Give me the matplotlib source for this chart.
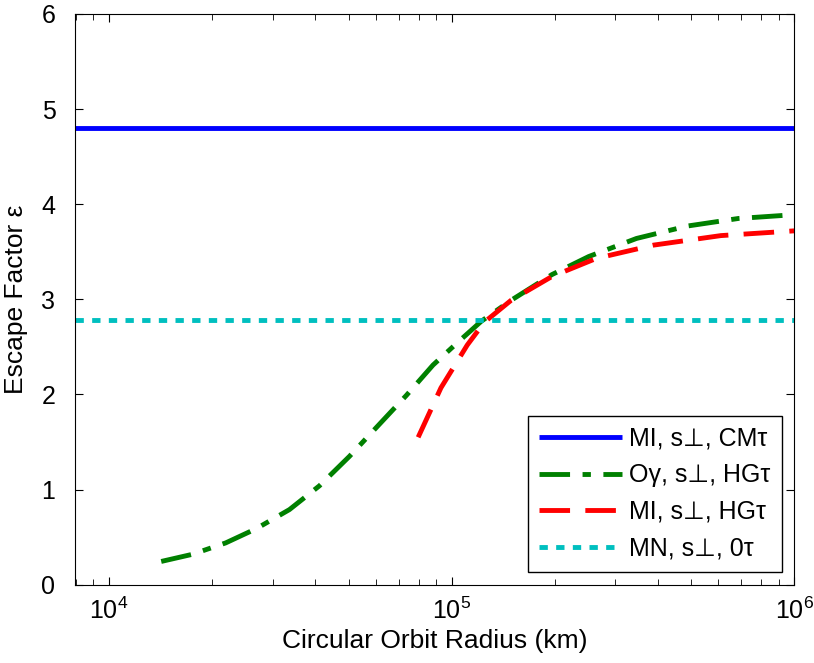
import numpy as np
import matplotlib
matplotlib.use('Agg')
import matplotlib.pyplot as plt

# values
blue_level = 4.80
cyan_level = 2.78

green_r = [1.42e4, 1.75e4, 2.19e4, 2.69e4, 3.36e4, 4.11e4, 5.03e4, 6.16e4,
           7.37e4, 8.82e4, 1.05e5, 1.22e5, 1.49e5, 1.96e5, 2.51e5, 3.46e5,
           4.86e5, 6.86e5, 1e6]
green_e = [0.245, 0.32, 0.44, 0.59, 0.79, 1.04, 1.35, 1.69,
           1.99, 2.31, 2.56, 2.77, 2.99, 3.26, 3.45, 3.64,
           3.77, 3.85, 3.89]

red_r = [7.98e4, 9.3e4, 1.11e5, 1.245e5, 1.49e5, 1.96e5, 2.64e5, 3.88e5,
         6.1e5, 1e6]
red_e = [1.55, 2.07, 2.52, 2.76, 2.99, 3.24, 3.43, 3.57, 3.67, 3.72]

labels = ['MI, s\u22a5, CM\u03c4', 'O\u03b3, s\u22a5, HG\u03c4',
          'MI, s\u22a5, HG\u03c4', 'MN, s\u22a5, 0\u03c4']

plt.rcParams['font.family'] = ['Liberation Sans', 'DejaVu Sans']
plt.rcParams['lines.scale_dashes'] = False

fig = plt.figure(figsize=(8.14, 6.63), dpi=100)
ax = fig.add_axes([0.092, 0.118, 0.884, 0.861])

xlim = (7.95e3, 1e6)
ax.plot(xlim, [blue_level, blue_level], color=(0, 0, 1), lw=3.5,
        solid_capstyle='butt', label=labels[0])
g, = ax.plot(green_r, green_e, color=(0, 0.5, 0), lw=3.5, label=labels[1])
g.set_dashes([22, 9, 6, 9])
r, = ax.plot(red_r, red_e, color=(1, 0, 0), lw=3.5, label=labels[2])
r.set_dashes([22, 11])
c, = ax.plot(xlim, [cyan_level, cyan_level], color=(0, 0.75, 0.75), lw=3.5,
             label=labels[3])
c.set_dashes([6, 6])
for ln in (g, r, c):
    ln.set_dash_capstyle('butt')

ax.set_xscale('log')
ax.set_xlim(*xlim)
ax.set_ylim(0, 6)
ax.set_yticks(range(7))
ax.tick_params(which='both', direction='in', top=True, right=True,
               labelsize=18)
ax.tick_params(which='major', length=6)
ax.tick_params(which='minor', length=4)
ax.tick_params(axis='y', pad=14)
ax.tick_params(axis='x', pad=9)
ax.set_xlabel('Circular Orbit Radius (km)', fontsize=19, labelpad=4)
ax.set_ylabel('Escape Factor \u03b5', fontsize=19, labelpad=10)

leg = ax.legend(loc='lower right', fontsize=18, handlelength=3.3,
                fancybox=False, framealpha=1, edgecolor='black',
                borderpad=0.45, labelspacing=0.5, handletextpad=0.3,
                borderaxespad=0, bbox_to_anchor=(0.982, 0.023))
leg.get_frame().set_linewidth(1.0)

fig.savefig('out.png', dpi=100)
